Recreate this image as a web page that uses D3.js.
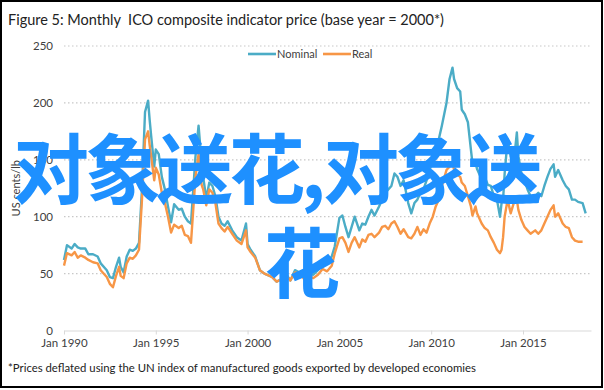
<!DOCTYPE html>
<html>
<head>
<meta charset="utf-8">
<script src="https://cdn.jsdelivr.net/npm/d3@7"></script>
<style>
  body { margin: 0; background: #fff; }
  svg { display: block; font-family: Lato, "Liberation Sans", sans-serif; }
  .axis path, .axis line { stroke: #d9d9d9; }
  .axis text { fill: #404040; font-size: 11.5px; font-family: Lato, "Liberation Sans", sans-serif; }
</style>
</head>
<body>
<script>
// months (YYYY-MM) and readings in US cents/lb
var months = ["1990-01","1990-03","1990-06","1990-08","1990-10","1990-12","1991-03","1991-05","1991-08","1991-11",
  "1992-01","1992-05","1992-07","1992-09","1992-11","1993-01","1993-02","1993-04","1993-06","1993-08",
  "1993-10","1993-12","1994-02","1994-04","1994-06","1994-08","1994-09","1994-10","1994-12","1995-01",
  "1995-03","1995-05","1995-07","1995-09","1995-11","1996-01","1996-04","1996-06","1996-08","1996-10",
  "1996-12","1997-03","1997-05","1997-07","1997-08","1997-10","1997-12","1998-02","1998-04","1998-06",
  "1998-08","1998-10","1998-12","1999-03","1999-06","1999-09","1999-12","2000-01","2000-03","2000-06",
  "2000-09","2000-12","2001-05","2001-08","2001-11","2002-02","2002-05","2002-08","2002-11","2003-02",
  "2003-05","2003-08","2003-11","2004-02","2004-05","2004-08","2004-10","2005-01","2005-03","2005-05",
  "2005-07","2005-09","2005-11","2006-02","2006-04","2006-06","2006-08","2006-10","2006-12","2007-03",
  "2007-05","2007-07","2007-09","2007-11","2008-01","2008-03","2008-05","2008-07","2008-10","2008-12",
  "2009-02","2009-04","2009-06","2009-08","2009-10","2009-12","2010-02","2010-04","2010-06","2010-08",
  "2010-11","2011-01","2011-03","2011-04","2011-06","2011-08","2011-09","2011-11","2012-01","2012-03",
  "2012-04","2012-06","2012-07","2012-10","2012-12","2013-02","2013-04","2013-06","2013-08","2013-10",
  "2013-11","2013-12","2014-01","2014-03","2014-05","2014-07","2014-09","2014-10","2014-12","2015-02",
  "2015-04","2015-06","2015-09","2015-11","2016-01","2016-03","2016-05","2016-07","2016-09","2016-10",
  "2016-12","2017-03","2017-05","2017-07","2017-09","2017-11","2018-01","2018-04","2018-06"];

var nominal = [62,75,72,76,73,72,72,67,67,65,
  59,53,47,46,56,64,56,51,65,71,
  70,72,77,124,192,202,185,171,144,159,
  155,135,124,109,95,111,106,107,100,96,
  94,153,180,147,135,116,130,127,118,100,
  94,92,96,88,82,79,94,76,71,65,
  53,50,47,43,45,50,44,53,51,47,
  50,49,53,59,60,65,74,99,101,91,
  82,91,100,88,94,93,100,106,101,109,
  115,121,124,127,138,135,127,132,112,103,
  112,115,121,124,132,141,150,159,168,180,
  200,221,231,221,213,210,194,190,183,159,
  147,147,142,133,135,128,127,118,115,100,
  112,115,138,168,153,147,174,153,138,132,
  124,118,118,121,118,127,135,142,146,135,
  141,132,127,124,115,115,113,112,103];

var real = [57,68,66,69,64,66,64,62,60,59,
  53,47,41,38,48,56,48,46,59,64,
  63,66,71,115,168,175,163,153,132,143,
  137,121,112,100,86,93,90,92,84,83,
  77,135,155,128,124,110,124,121,112,94,
  90,87,91,85,79,76,88,73,69,64,
  53,50,47,43,45,49,44,51,50,45,
  48,46,49,54,52,57,68,81,82,77,
  69,77,82,73,80,78,84,85,82,86,
  91,92,89,94,96,91,85,89,82,81,
  85,91,84,89,86,94,100,109,115,127,
  141,144,148,141,137,135,130,127,118,109,
  101,109,103,94,90,88,82,77,71,68,
  71,82,100,115,103,112,115,106,97,91,
  88,85,88,85,88,94,100,106,110,100,
  103,94,91,90,82,79,78,78,null];

var yTicks = [0, 50, 100, 150, 200, 250];
var xTickYears = [1990, 1995, 2000, 2005, 2010, 2015];
var xTickLabels = ["Jan 1990", "Jan 1995", "Jan 2000", "Jan 2005", "Jan 2010", "Jan 2015"];
var seriesNames = ["Nominal", "Real"];
var seriesColors = ["#4bacc6", "#f79646"];

var svgWidth = 604, svgHeight = 390;

var svg = d3.select("body").append("svg")
  .attr("width", svgWidth)
  .attr("height", svgHeight);

var parseMonth = d3.timeParse("%Y-%m");
var dates = months.map(parseMonth);

var x = d3.scaleTime()
  .domain([new Date(1990, 0, 1), new Date(2018, 8, 15)])
  .range([64, 591]);
var y = d3.scaleLinear()
  .domain([0, 250])
  .range([330.5, 46]);

// outer frame
svg.append("rect")
  .attr("x", 1).attr("y", 1)
  .attr("width", 601).attr("height", 386)
  .attr("fill", "none")
  .attr("stroke", "#000")
  .attr("stroke-width", 2);

// title
svg.append("text")
  .attr("x", 8).attr("y", 25)
  .attr("font-size", 14.5)
  .attr("fill", "#222")
  .text("Figure 5: Monthly  ICO composite indicator price (base year = 2000*)")
  .style("white-space", "pre");

// dotted gridlines
svg.append("g").selectAll("line")
  .data(yTicks.filter(d => d > 0))
  .enter().append("line")
  .attr("x1", 64).attr("x2", 591)
  .attr("y1", d => y(d)).attr("y2", d => y(d))
  .attr("stroke", "#c8c8c8")
  .attr("stroke-width", 1.2)
  .attr("stroke-dasharray", "1.5,2.5");

// y axis labels
var leftAxis = d3.axisLeft(y).tickValues(yTicks).tickSize(0).tickPadding(11);
svg.append("g")
  .attr("class", "axis")
  .attr("transform", "translate(64,0)")
  .call(leftAxis)
  .call(g => g.select(".domain").remove());

// x axis
var bottomAxis = d3.axisBottom(x)
  .tickValues(xTickYears.map(yr => new Date(yr, 0, 1)))
  .tickFormat((d, i) => xTickLabels[i])
  .tickSizeInner(4).tickSizeOuter(0).tickPadding(4);
svg.append("g")
  .attr("class", "axis")
  .attr("transform", "translate(0," + y(0) + ")")
  .call(bottomAxis);

// y axis title
svg.append("text")
  .attr("transform", "translate(20," + y(125) + ") rotate(-90)")
  .attr("text-anchor", "middle")
  .attr("font-size", 11)
  .attr("fill", "#404040")
  .text("US cents/lb");

// lines
[nominal, real].forEach(function(vals, k) {
  var line = d3.line()
    .defined((d, i) => vals[i] != null)
    .x((d, i) => x(dates[i]))
    .y((d, i) => y(vals[i]));
  svg.append("path")
    .datum(vals)
    .attr("fill", "none")
    .attr("stroke", seriesColors[k])
    .attr("stroke-width", 2.4)
    .attr("stroke-linejoin", "round")
    .attr("d", line);
});

// legend
var legend = svg.append("g").attr("font-size", 11).attr("fill", "#404040");
var legendX = [248, 323];
seriesNames.forEach(function(name, k) {
  legend.append("line")
    .attr("x1", legendX[k]).attr("x2", legendX[k] + 28)
    .attr("y1", 54).attr("y2", 54)
    .attr("stroke", seriesColors[k])
    .attr("stroke-width", 2.6);
  legend.append("text")
    .attr("x", legendX[k] + 29).attr("y", 58)
    .text(name);
});

// footnote
svg.append("text")
  .attr("x", 8).attr("y", 372)
  .attr("font-size", 10.5)
  .attr("fill", "#222")
  .attr("textLength", 468)
  .attr("lengthAdjust", "spacingAndGlyphs")
  .text("*Prices deflated using the UN index of manufactured goods exported by developed economies");

// overlaid watermark text
var wm = svg.append("g")
  .attr("font-family", "'Noto Sans CJK SC', sans-serif")
  .attr("font-size", 76)
  .attr("font-weight", 700)
  .attr("fill", "#1e90ff");
var wm1 = wm.append("text").attr("y", 198);
wm1.append("tspan").attr("x", 13).attr("letter-spacing", -4).text("对象送花,");
wm1.append("tspan").attr("x", 323).attr("letter-spacing", -4).text("对象送");
wm.append("text").attr("x", 264).attr("y", 292).text("花");
</script>
</body>
</html>
